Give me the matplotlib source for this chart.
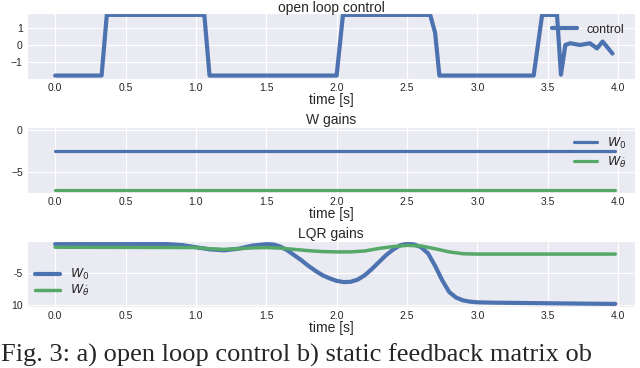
import numpy as np
import matplotlib
matplotlib.use("Agg")
import matplotlib.pyplot as plt
import seaborn as sns

# open loop control
t_ctrl = [0.0, 0.33, 0.367, 1.06, 1.097, 2.0, 2.045, 2.665, 2.70, 2.73, 3.40, 3.46,
          3.566, 3.594, 3.625, 3.66, 3.73, 3.80, 3.85, 3.89, 3.96]
u_ctrl = [-1.78, -1.78, 1.75, 1.75, -1.78, -1.78, 1.75, 1.75, 0.7, -1.78, -1.78, 1.75,
          1.75, -1.73, 0.0, 0.1, 0.0, 0.1, -0.2, 0.2, -0.5]

# static W gains
t_w = [0.0, 3.98]
w0_static = [-2.46, -2.46]
wth_static = [-7.14, -7.14]

# LQR gains
t_lqr_w0 = [0.0, 0.5, 0.8, 0.9, 1.0, 1.1, 1.2, 1.3, 1.4, 1.5, 1.55, 1.6, 1.65, 1.7,
            1.75, 1.8, 1.85, 1.9, 1.95, 2.0, 2.05, 2.1, 2.15, 2.2, 2.25, 2.3, 2.35,
            2.4, 2.45, 2.5, 2.55, 2.6, 2.65, 2.7, 2.75, 2.8, 2.85, 2.9, 2.95, 3.0,
            3.1, 3.3, 3.5, 3.7, 3.98]
lqr_w0 = [-0.3, -0.3, -0.3, -0.45, -0.8, -1.15, -1.3, -1.05, -0.55, -0.3, -0.35, -0.7,
          -1.3, -2.1, -2.9, -3.8, -4.6, -5.3, -5.8, -6.2, -6.4, -6.35, -6.0, -5.3,
          -4.3, -3.2, -2.1, -1.2, -0.5, -0.25, -0.35, -0.8, -1.8, -3.8, -6.1, -8.0,
          -8.9, -9.35, -9.55, -9.65, -9.7, -9.75, -9.8, -9.85, -9.9]
t_lqr_wth = [0.0, 1.0, 1.1, 1.2, 1.3, 1.4, 1.5, 1.6, 1.7, 1.8, 1.9, 2.0, 2.1, 2.2,
             2.3, 2.4, 2.5, 2.6, 2.7, 2.8, 2.9, 3.0, 3.98]
lqr_wth = [-0.8, -0.85, -1.05, -1.15, -1.05, -0.9, -0.85, -0.95, -1.15, -1.35, -1.5,
           -1.55, -1.55, -1.4, -1.0, -0.7, -0.5, -0.6, -1.05, -1.55, -1.85, -1.9, -1.9]

xticks = [0.0, 0.5, 1.0, 1.5, 2.0, 2.5, 3.0, 3.5, 4.0]

sns.set_style("darkgrid")
plt.rcParams['font.family'] = ['Liberation Sans', 'DejaVu Sans']
plt.rcParams['mathtext.fontset'] = 'dejavusans'

blue = '#4C72B0'
green = '#55A868'

fig = plt.figure(figsize=(6.4, 3.68), dpi=100)
W, H = 640.0, 368.0

def make_ax(top, bottom):
    ax = fig.add_axes([27 / W, 1 - bottom / H, 608 / W, (bottom - top) / H])
    ax.set_xlim(-0.2, 4.12)
    ax.set_xticks(xticks)
    ax.set_xticklabels(['%.1f' % v for v in xticks])
    ax.tick_params(labelsize=7.5, length=0, pad=3)
    ax.set_xlabel('time [s]', fontsize=10, labelpad=0)
    return ax

ax1 = make_ax(13, 79)
ax1.plot(t_ctrl, u_ctrl, color=blue, lw=3, label='control')
ax1.set_ylim(-1.98, 1.86)
ax1.set_yticks([-1, 0, 1])
ax1.set_title('open loop control', fontsize=10, pad=1)
ax1.legend(loc='upper right', frameon=False, fontsize=9, handlelength=2.0,
           borderaxespad=0.2, bbox_to_anchor=(0.995, 0.95))

ax2 = make_ax(127, 193)
ax2.plot(t_w, w0_static, color=blue, lw=2.3, label=r'$W_0$')
ax2.plot(t_w, wth_static, color=green, lw=2.3, label=r'$W_{\dot{\theta}}$')
ax2.set_ylim(-7.5, 0.36)
ax2.set_yticks([-5, 0])
ax2.set_title('W gains', fontsize=10, pad=2)
ax2.legend(loc='upper right', frameon=False, fontsize=9, handlelength=1.8,
           borderaxespad=0.3, labelspacing=0.3)

ax3 = make_ax(241, 307)
ax3.plot(t_lqr_w0, lqr_w0, color=blue, lw=3, label=r'$W_0$')
ax3.plot(t_lqr_wth, lqr_wth, color=green, lw=2.5, label=r'$W_{\dot{\theta}}$')
ax3.set_ylim(-10.4, 0.2)
ax3.set_yticks([-10, -5])
ax3.set_yticklabels(['10', '-5'])
ax3.set_title('LQR gains', fontsize=10, pad=2)
ax3.legend(loc='lower left', frameon=False, fontsize=9, handlelength=2.0,
           borderaxespad=0.2, labelspacing=0.05, bbox_to_anchor=(0.0, 0.02))

fig.text(0.002, 1 / H, 'Fig. 3: a) open loop control b) static feedback matrix ob',
         family=['Liberation Serif'], fontsize=19, va='bottom', ha='left')

fig.savefig('out.png', dpi=100)
